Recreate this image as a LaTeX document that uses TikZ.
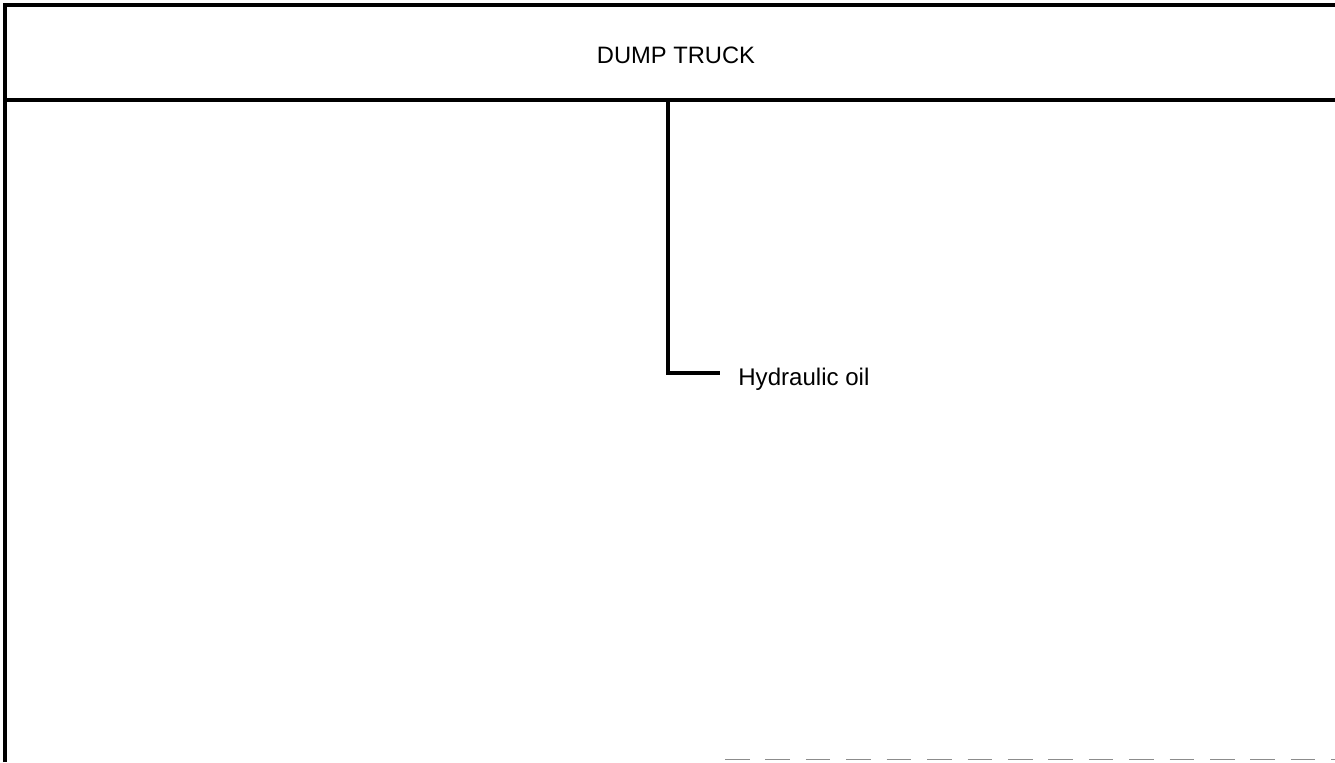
\documentclass[tikz,border=0pt]{standalone}
\usepackage{fontspec}
\setmainfont{Liberation Sans}
\usepackage{tikz}
\usetikzlibrary{positioning}

\begin{document}
\begin{tikzpicture}[
    frame/.style={draw=black, line width=2.1pt},
    faint/.style={draw=black!45, line width=0.8pt, dash pattern=on 14pt off 9pt},
    title/.style={font=\fontsize{13.5}{16}\selectfont, anchor=base},
    label/.style={font=\fontsize{13.7}{16}\selectfont, anchor=base west, inner sep=0pt},
    feed/.style={draw=black, line width=2.3pt}]

    \useasboundingbox (0,0) rectangle (26.7,-15.24);

    % Frame
    \draw [frame] (0.1,-15.24) |- (26.8,-0.1);
    \draw [frame] (0.1,-2.0) -- (26.8,-2.0);
    \draw [faint] (14.5,-15.19) -- (26.7,-15.19);

    % Header
    \node [title] at (13.52,-1.27) (truck) {DUMP TRUCK};

    % Item
    \node [label] at (14.76,-7.7) (oil) {Hydraulic oil};
    \coordinate (tap) at (13.36,-2.0);
    \coordinate (oilend) at (14.4,-7.46);

    % Connector
    \draw [feed] (tap) |- (oilend);

\end{tikzpicture}
\end{document}
